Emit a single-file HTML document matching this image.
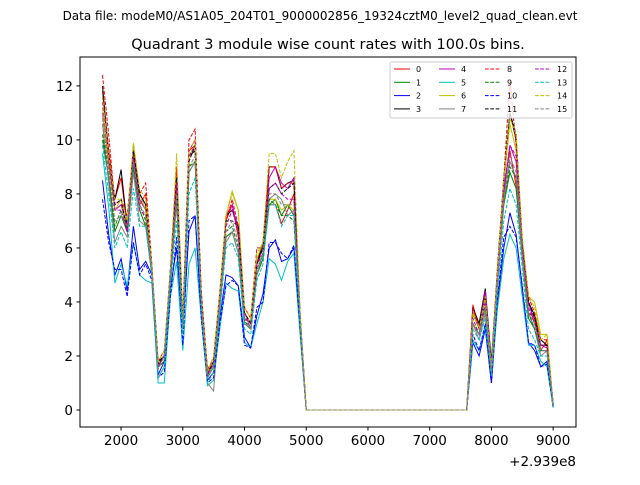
<!DOCTYPE html>
<html><head><meta charset="utf-8"><style>
body{margin:0;background:#fff}
svg{font-family:"DejaVu Sans","Liberation Sans",sans-serif}
</style></head><body>
<svg id="chart" width="640" height="480" viewBox="0 0 640 480">
<rect x="0" y="0" width="640" height="480" fill="#fff"/>
<text x="320" y="20" font-size="12" text-anchor="middle">Data file: modeM0/AS1A05_204T01_9000002856_19324cztM0_level2_quad_clean.evt</text>
<text x="328" y="49" font-size="14.5" text-anchor="middle">Quadrant 3 module wise count rates with 100.0s bins.</text>
<g id="plot"></g>
<rect x="80" y="57" width="496" height="370" fill="none" stroke="#000" stroke-width="1"/>
<g id="axes"></g>
<text x="576" y="466" font-size="13.5" text-anchor="end">+2.939e8</text>
<g id="legend"></g>
</svg>
<script>
const segAx = [1700,1800,1900,2000,2100,2200,2300,2400,2500,2600,2700,2800,2900,3000,3100,3200,3300,3400,3500,3600,3700,3800,3900,4000,4100,4200,4300,4400,4500,4600,4700,4800,4900,5000];
const midX = [5100,5200,5300,5400,5500,5600,5700,5800,5900,6000,6100,6200,6300,6400,6500,6600,6700,6800,6900,7000,7100,7200,7300,7400,7500,7600];
const segBx = [7700,7800,7900,8000,8100,8200,8300,8400,8500,8600,8700,8800,8900,9000];
const xTicks = [2000,3000,4000,5000,6000,7000,8000,9000];
const yTicks = [0,2,4,6,8,10,12];
const seriesNames = ["0","1","2","3","4","5","6","7","8","9","10","11","12","13","14","15"];
const seriesColors = ["#ff0000","#008000","#0000ff","#000000","#bf00bf","#00bfbf","#bfbf00","#808080","#ff0000","#008000","#0000ff","#000000","#bf00bf","#00bfbf","#bfbf00","#808080"];
const s0A = [11.8,9.6,7.8,8.6,6.8,9.6,7.6,8.0,5.2,1.6,2.0,5.0,8.8,3.2,9.6,9.8,4.2,1.3,1.8,4.2,7.0,7.6,6.4,3.6,3.2,5.6,6.0,7.6,7.6,6.9,7.4,8.0,3.5,0];
const s1A = [10.0,8.6,6.6,7.2,6.6,9.0,7.4,6.8,5.0,1.6,1.8,4.8,7.8,3.0,8.8,9.2,4.0,1.2,1.6,3.8,6.4,6.6,5.8,3.2,3.0,5.0,5.6,7.6,7.8,7.2,7.6,7.2,3.3,0];
const s2A = [8.5,6.5,5.0,5.6,4.4,6.8,5.2,5.5,5.0,1.3,1.8,4.5,6.0,3.0,6.6,7.2,3.6,1.1,1.4,3.4,5.0,4.9,4.6,2.7,2.3,3.5,4.3,6.0,6.3,5.5,5.6,6.0,3.0,0];
const s3A = [12.0,9.4,7.8,8.9,6.8,9.8,8.0,7.6,5.2,1.8,2.0,5.2,8.6,3.2,9.4,9.6,4.2,1.4,1.8,4.2,7.2,7.4,6.8,3.6,3.2,5.4,6.2,9.0,9.0,8.2,8.4,8.5,3.5,0];
const s4A = [11.0,9.2,7.4,7.6,6.8,9.4,7.8,7.4,5.2,1.7,2.0,5.0,8.4,3.2,9.6,10.0,4.0,1.3,1.8,4.0,7.2,7.6,6.6,3.4,3.2,5.4,6.0,8.6,9.0,8.4,8.2,8.6,3.5,0];
const s5A = [9.5,7.5,4.7,5.4,4.6,6.2,5.0,4.8,4.7,1.0,1.0,4.2,5.5,2.2,5.4,6.0,3.4,0.9,1.1,3.0,4.7,4.5,4.4,2.5,2.3,3.2,4.0,5.6,5.4,4.8,5.5,5.8,2.8,0];
const s6A = [11.2,9.0,7.4,7.8,6.6,9.8,8.0,7.4,5.2,1.7,2.0,5.0,8.8,3.2,9.4,9.8,4.2,1.3,1.8,4.2,7.2,8.1,7.4,3.6,3.2,5.6,6.2,7.8,7.8,7.4,7.6,7.4,3.5,0];
const s7A = [10.6,8.4,6.2,6.8,6.4,8.8,7.0,6.8,5.0,1.2,1.6,4.8,7.6,3.0,8.8,9.2,3.8,1.0,0.7,3.8,6.2,6.6,5.8,3.2,3.0,5.0,5.8,7.8,8.0,7.8,7.2,7.4,3.3,0];
const s8A = [12.4,10.2,7.6,7.8,7.2,9.6,8.0,8.4,5.4,1.8,2.2,5.2,9.0,3.4,10.0,10.4,4.4,1.5,1.9,4.4,7.0,7.8,6.8,3.8,3.4,6.0,6.0,9.0,9.0,8.2,8.4,8.4,3.6,0];
const s9A = [10.2,8.8,6.8,7.4,6.6,9.2,7.6,7.0,5.0,1.6,1.8,4.8,8.0,3.0,9.0,9.2,4.0,1.2,1.6,4.0,6.6,6.8,6.0,3.3,3.0,5.2,5.8,7.8,7.6,7.2,7.2,7.0,3.4,0];
const s10A = [7.8,6.2,5.2,5.2,4.2,6.2,5.0,5.4,4.8,1.2,1.4,4.2,6.4,2.4,7.0,7.2,3.4,1.0,1.2,3.2,4.6,4.8,4.6,2.4,2.3,3.8,4.0,6.2,6.2,5.8,5.6,6.1,3.0,0];
const s11A = [11.6,9.4,7.6,7.8,6.6,9.6,8.0,7.6,5.2,1.7,2.0,5.0,8.6,3.2,9.2,9.8,4.2,1.3,1.8,4.2,7.0,7.0,6.8,3.6,3.2,5.4,6.0,8.2,8.4,8.0,8.2,8.4,3.5,0];
const s12A = [11.4,9.2,7.4,7.4,6.6,9.4,7.4,7.2,5.2,1.6,2.0,5.0,8.4,3.0,9.4,9.8,4.0,1.3,1.7,4.1,6.8,7.4,6.6,3.6,3.0,5.4,5.8,8.2,8.4,8.0,7.8,7.8,3.4,0];
const s13A = [9.8,8.0,6.0,6.6,6.0,8.2,6.8,6.8,5.0,1.2,1.6,4.6,7.0,2.8,8.0,8.6,3.8,1.0,1.4,3.6,6.0,6.2,5.6,3.0,2.8,4.8,5.4,7.6,7.6,6.8,7.2,7.2,3.2,0];
const s14A = [11.6,9.4,7.8,7.8,7.0,9.9,8.2,7.8,5.4,1.8,2.2,5.2,9.5,3.4,9.6,10.0,4.2,1.4,2.0,4.4,7.2,8.0,7.4,3.8,3.4,5.8,6.2,9.5,9.5,8.6,9.2,9.6,3.6,0];
const s15A = [10.8,8.8,7.0,7.2,6.8,9.2,7.6,7.2,5.2,1.5,2.0,5.0,8.0,3.0,9.0,9.4,4.0,1.2,1.6,4.0,6.6,7.0,6.2,3.4,3.0,5.2,5.8,8.0,8.0,7.6,7.6,7.6,3.4,0];
const s0B = [3.9,3.0,4.2,1.6,5.2,8.2,9.6,8.3,5.8,3.6,3.4,2.2,2.6,0.2];
const s1B = [3.2,2.8,3.8,1.4,4.8,7.6,8.8,8.2,5.6,3.4,3.0,2.2,2.2,0.2];
const s2B = [2.5,2.0,3.0,1.0,4.0,6.0,7.3,6.5,4.5,2.5,2.2,1.6,1.8,0.1];
const s3B = [3.8,3.2,4.5,1.8,5.2,8.4,11.0,10.0,6.2,4.0,3.5,2.6,2.4,0.2];
const s4B = [3.6,3.0,4.4,1.6,5.0,8.0,9.8,9.2,6.0,4.0,3.2,2.4,2.4,0.2];
const s5B = [2.6,2.2,3.1,1.2,3.8,5.6,6.5,6.0,4.2,2.4,2.4,1.8,1.6,0.1];
const s6B = [3.6,3.0,4.0,1.6,5.2,8.4,10.6,9.6,6.2,4.2,4.0,2.8,2.8,0.2];
const s7B = [3.2,2.6,3.6,1.4,4.8,7.8,9.2,8.6,5.6,3.6,3.0,2.0,2.2,0.2];
const s8B = [3.8,3.0,4.2,1.6,5.4,8.6,12.2,9.8,6.2,4.2,3.6,2.6,2.6,0.2];
const s9B = [3.2,2.8,3.8,1.4,4.8,7.8,9.0,8.6,5.8,3.6,3.0,2.2,2.2,0.2];
const s10B = [2.8,2.2,3.2,1.0,4.2,6.4,6.8,6.4,4.6,2.5,2.4,1.6,1.7,0.1];
const s11B = [3.6,3.0,4.2,1.6,5.2,8.6,11.0,10.2,6.2,4.0,3.4,2.4,2.4,0.2];
const s12B = [3.4,2.8,4.0,1.5,5.0,8.2,9.8,9.4,6.0,3.8,3.2,2.4,2.3,0.2];
const s13B = [3.0,2.6,3.4,1.3,4.4,7.0,8.2,7.6,5.2,3.0,2.6,2.0,2.0,0.1];
const s14B = [3.6,3.0,4.2,1.6,5.2,8.6,10.8,10.2,6.4,4.2,3.8,2.6,2.8,0.2];
const s15B = [3.2,2.8,3.8,1.4,4.8,7.8,9.4,8.8,5.8,3.6,3.2,2.2,2.2,0.2];
const seriesA = [s0A,s1A,s2A,s3A,s4A,s5A,s6A,s7A,s8A,s9A,s10A,s11A,s12A,s13A,s14A,s15A];
const seriesB = [s0B,s1B,s2B,s3B,s4B,s5B,s6B,s7B,s8B,s9B,s10B,s11B,s12B,s13B,s14B,s15B];

const NS='http://www.w3.org/2000/svg';
const X0=80,X1=576,Y0=57,Y1=427;
const xmin=1335,xmax=9370,ymin=-0.63,ymax=13.07;
function xs(v){return X0+(v-xmin)/(xmax-xmin)*(X1-X0);}
function ys(v){return Y1-(v-ymin)/(ymax-ymin)*(Y1-Y0);}

const plot=document.getElementById('plot');
seriesNames.forEach((n,i)=>{
  const xsArr=segAx.concat(midX,segBx);
  const vals=seriesA[i].concat(midX.map(()=>0),seriesB[i]);
  const pts=xsArr.map((x,j)=>xs(x).toFixed(1)+','+ys(vals[j]).toFixed(1)).join(' ');
  const pl=document.createElementNS(NS,'polyline');
  pl.setAttribute('points',pts);
  pl.setAttribute('fill','none');
  pl.setAttribute('stroke',seriesColors[i]);
  pl.setAttribute('stroke-width','1');
  if(i>=8) pl.setAttribute('stroke-dasharray','3.7,1.6');
  
  
  plot.appendChild(pl);
});

const axes=document.getElementById('axes');
xTicks.forEach(t=>{
  const x=xs(t);
  const l=document.createElementNS(NS,'line');
  l.setAttribute('x1',x);l.setAttribute('x2',x);l.setAttribute('y1',Y1);l.setAttribute('y2',Y1+3.5);
  l.setAttribute('stroke','#000');
  
  
  axes.appendChild(l);
  const tx=document.createElementNS(NS,'text');
  tx.setAttribute('x',x);tx.setAttribute('y',Y1+18);tx.setAttribute('font-size','13.5');tx.setAttribute('text-anchor','middle');
  tx.textContent=t;
  
  
  axes.appendChild(tx);
});
yTicks.forEach(t=>{
  const y=ys(t);
  const l=document.createElementNS(NS,'line');
  l.setAttribute('x1',X0-3.5);l.setAttribute('x2',X0);l.setAttribute('y1',y);l.setAttribute('y2',y);
  l.setAttribute('stroke','#000');
  
  
  axes.appendChild(l);
  const tx=document.createElementNS(NS,'text');
  tx.setAttribute('x',X0-7);tx.setAttribute('y',y+5);tx.setAttribute('font-size','13.5');tx.setAttribute('text-anchor','end');
  tx.textContent=t;
  
  
  axes.appendChild(tx);
});

const lg=document.getElementById('legend');
const box=document.createElementNS(NS,'rect');
box.setAttribute('x',390);box.setAttribute('y',62);box.setAttribute('width',182);box.setAttribute('height',56);box.setAttribute('rx',2);
box.setAttribute('fill','#fff');box.setAttribute('fill-opacity','0.8');box.setAttribute('stroke','#ccc');


lg.appendChild(box);
const colX=[394,439,485,535];
seriesNames.forEach((n,i)=>{
  const c=Math.floor(i/4),r=i%4;
  const y=69+r*13.3;
  const g=document.createElementNS(NS,'g');
  
  
  const l=document.createElementNS(NS,'line');
  l.setAttribute('x1',colX[c]);l.setAttribute('x2',colX[c]+16);l.setAttribute('y1',y);l.setAttribute('y2',y);
  l.setAttribute('stroke',seriesColors[i]);l.setAttribute('stroke-width','1');
  if(i>=8) l.setAttribute('stroke-dasharray','3.7,1.6');
  g.appendChild(l);
  const t=document.createElementNS(NS,'text');
  t.setAttribute('x',colX[c]+22);t.setAttribute('y',y+3);t.setAttribute('font-size','8');
  t.textContent=n;
  g.appendChild(t);
  lg.appendChild(g);
});
</script>
</body></html>
